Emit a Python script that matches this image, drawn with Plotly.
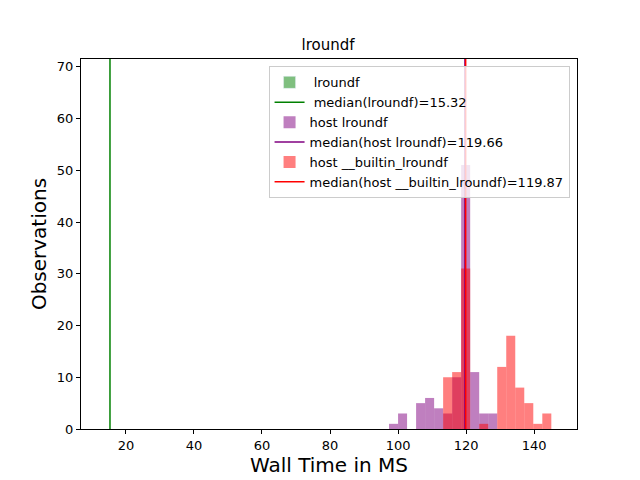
import plotly.graph_objects as go

# bin edges shared by the host histograms
edges = [97.35 + 2.65 * i for i in range(19)]
host_counts = [1, 3, 0, 5, 6, 4, 3, 10, 51, 11, 3, 3, 0, 0, 0, 0, 0, 0]
builtin_counts = [0, 0, 0, 0, 0, 0, 10, 11, 31, 0, 1, 0, 12, 18, 8, 5, 1, 3]
median_dev = 15.32
median_host = 119.66
median_builtin = 119.87

centers = [(a + b) / 2 for a, b in zip(edges[:-1], edges[1:])]
width = edges[1] - edges[0]

fig = go.Figure()
fig.add_trace(go.Bar(x=[None], y=[None], name=" lroundf", marker_color="rgba(0,128,0,0.5)"))
fig.add_trace(go.Scatter(x=[median_dev, median_dev], y=[0, 80], mode="lines",
                         line=dict(color="green", width=1.5), name=" median(lroundf)=15.32"))
fig.add_trace(go.Bar(x=centers, y=host_counts, width=width, name="host lroundf",
                     marker=dict(color="rgba(128,0,128,0.5)", line_width=0)))
fig.add_trace(go.Scatter(x=[median_host, median_host], y=[0, 80], mode="lines",
                         line=dict(color="purple", width=1.5), name="median(host lroundf)=119.66"))
fig.add_trace(go.Bar(x=centers, y=builtin_counts, width=width, name="host __builtin_lroundf",
                     marker=dict(color="rgba(255,0,0,0.5)", line_width=0)))
fig.add_trace(go.Scatter(x=[median_builtin, median_builtin], y=[0, 80], mode="lines",
                         line=dict(color="red", width=1.5), name="median(host __builtin_lroundf)=119.87"))

axis_style = dict(showgrid=False, zeroline=False, showline=True, linecolor="black", mirror=True,
                  ticks="outside", ticklen=4, tickcolor="black", tickfont=dict(size=13, color="black"))
fig.update_layout(
    width=640, height=480, barmode="overlay", plot_bgcolor="white", paper_bgcolor="white",
    font=dict(family="DejaVu Sans", color="black"),
    margin=dict(l=73, r=71, t=51, b=59, autoexpand=False),
    title=dict(text="lroundf", x=0.5, xanchor="center", y=0.935, font=dict(size=15)),
    xaxis=dict(range=[6.8, 152.6], tickvals=[20, 40, 60, 80, 100, 120, 140],
               title=dict(text="Wall Time in MS", font=dict(size=20), standoff=4), **axis_style),
    yaxis=dict(range=[0, 71.5], tickvals=list(range(0, 71, 10)),
               title=dict(text="Observations", font=dict(size=20), standoff=4), **axis_style),
    legend=dict(x=0.985, y=0.98, xanchor="right", yanchor="top", bordercolor="#ccc", borderwidth=1,
                bgcolor="rgba(255,255,255,0.8)", font=dict(size=13), tracegroupgap=0),
)
fig.write_html("out.html")
